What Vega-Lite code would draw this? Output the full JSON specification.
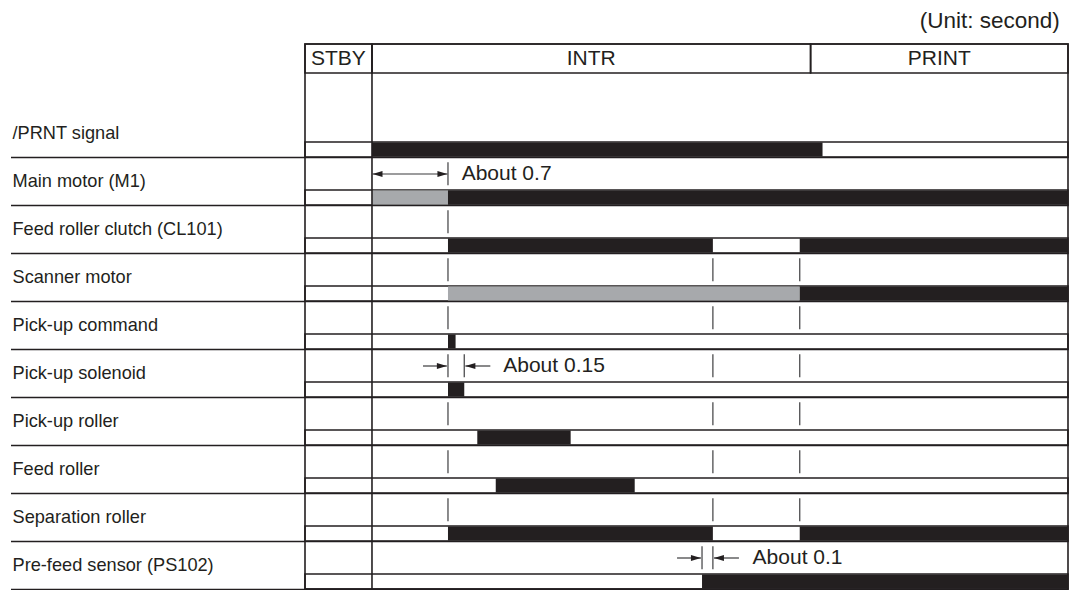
{
  "$schema": "https://vega.github.io/schema/vega-lite/v6.json",
  "width": 763,
  "height": 545,
  "autosize": {"type": "none"},
  "padding": {"left": 305, "top": 44, "right": 2, "bottom": 1},
  "background": "white",
  "config": {
    "view": {"stroke": "#231f20", "strokeWidth": 1.6},
    "font": "Liberation Sans"
  },
  "title": {
    "text": "(Unit: second)",
    "anchor": "end",
    "font": "Liberation Sans",
    "fontSize": 22.5,
    "fontWeight": "normal",
    "color": "#231f20",
    "offset": 11,
    "dx": -9
  },
  "datasets": {
    "signals": [
      {"signal": "/PRNT signal"},
      {"signal": "Main motor (M1)"},
      {"signal": "Feed roller clutch (CL101)"},
      {"signal": "Scanner motor"},
      {"signal": "Pick-up command"},
      {"signal": "Pick-up solenoid"},
      {"signal": "Pick-up roller"},
      {"signal": "Feed roller"},
      {"signal": "Separation roller"},
      {"signal": "Pre-feed sensor (PS102)"}
    ],
    "segments": [
      {"signal": "/PRNT signal", "start": 0, "end": 4.15, "state": "on"},
      {"signal": "Main motor (M1)", "start": 0, "end": 0.7, "state": "partial"},
      {"signal": "Main motor (M1)", "start": 0.7, "end": 6.411, "state": "on"},
      {"signal": "Feed roller clutch (CL101)", "start": 0.7, "end": 3.14, "state": "on"},
      {"signal": "Feed roller clutch (CL101)", "start": 3.94, "end": 6.411, "state": "on"},
      {"signal": "Scanner motor", "start": 0.7, "end": 3.94, "state": "partial"},
      {"signal": "Scanner motor", "start": 3.94, "end": 6.411, "state": "on"},
      {"signal": "Pick-up command", "start": 0.7, "end": 0.77, "state": "on"},
      {"signal": "Pick-up solenoid", "start": 0.7, "end": 0.85, "state": "on"},
      {"signal": "Pick-up roller", "start": 0.97, "end": 1.83, "state": "on"},
      {"signal": "Feed roller", "start": 1.14, "end": 2.42, "state": "on"},
      {"signal": "Separation roller", "start": 0.7, "end": 3.14, "state": "on"},
      {"signal": "Separation roller", "start": 3.94, "end": 6.411, "state": "on"},
      {"signal": "Pre-feed sensor (PS102)", "start": 3.04, "end": 6.411, "state": "on"}
    ],
    "markers": [
      {"signal": "Main motor (M1)", "t": 0.7},
      {"signal": "Feed roller clutch (CL101)", "t": 0.7},
      {"signal": "Scanner motor", "t": 0.7},
      {"signal": "Scanner motor", "t": 3.14},
      {"signal": "Scanner motor", "t": 3.94},
      {"signal": "Pick-up command", "t": 0.7},
      {"signal": "Pick-up command", "t": 3.14},
      {"signal": "Pick-up command", "t": 3.94},
      {"signal": "Pick-up solenoid", "t": 0.7},
      {"signal": "Pick-up solenoid", "t": 0.85},
      {"signal": "Pick-up solenoid", "t": 3.14},
      {"signal": "Pick-up solenoid", "t": 3.94},
      {"signal": "Pick-up roller", "t": 0.7},
      {"signal": "Pick-up roller", "t": 3.14},
      {"signal": "Pick-up roller", "t": 3.94},
      {"signal": "Feed roller", "t": 0.7},
      {"signal": "Feed roller", "t": 3.14},
      {"signal": "Feed roller", "t": 3.94},
      {"signal": "Separation roller", "t": 0.7},
      {"signal": "Separation roller", "t": 3.14},
      {"signal": "Separation roller", "t": 3.94},
      {"signal": "Pre-feed sensor (PS102)", "t": 3.04},
      {"signal": "Pre-feed sensor (PS102)", "t": 3.14}
    ],
    "shafts": [
      {"signal": "Main motor (M1)", "start": 0.005, "end": 0.695},
      {"signal": "Pick-up solenoid", "start": 0.47, "end": 0.69},
      {"signal": "Pick-up solenoid", "start": 0.86, "end": 1.09},
      {"signal": "Pre-feed sensor (PS102)", "start": 2.81, "end": 3.03},
      {"signal": "Pre-feed sensor (PS102)", "start": 3.15, "end": 3.38}
    ],
    "heads": [
      {"signal": "Main motor (M1)", "t": 0.005, "dir": "left"},
      {"signal": "Main motor (M1)", "t": 0.695, "dir": "right"},
      {"signal": "Pick-up solenoid", "t": 0.69, "dir": "right"},
      {"signal": "Pick-up solenoid", "t": 0.86, "dir": "left"},
      {"signal": "Pre-feed sensor (PS102)", "t": 3.03, "dir": "right"},
      {"signal": "Pre-feed sensor (PS102)", "t": 3.15, "dir": "left"}
    ],
    "notes": [
      {"signal": "Main motor (M1)", "t": 0.826, "note": "About 0.7"},
      {"signal": "Pick-up solenoid", "t": 1.209, "note": "About 0.15"},
      {"signal": "Pre-feed sensor (PS102)", "t": 3.506, "note": "About 0.1"}
    ],
    "phases": [
      {"phase": "STBY", "start": -0.617, "end": 0, "mid": -0.309},
      {"phase": "INTR", "start": 0, "end": 4.04, "mid": 2.02},
      {"phase": "PRINT", "start": 4.04, "end": 6.411, "mid": 5.225}
    ]
  },
  "resolve": {"scale": {"y": "independent"}},
  "layer": [
    {
      "layer": [
        {
          "data": {"name": "signals"},
          "mark": {"type": "bar", "height": 15, "yOffset": 16.5, "fill": "white", "fillOpacity": 0, "stroke": "#231f20", "strokeWidth": 1.6},
          "encoding": {
            "x": {"datum": -0.617, "type": "quantitative", "scale": {"domain": [-0.617, 6.411], "nice": false, "zero": false}, "axis": null},
            "x2": {"datum": 6.411},
            "y": {
              "field": "signal",
              "type": "nominal",
              "scale": {
                "domain": ["/PRNT signal", "Main motor (M1)", "Feed roller clutch (CL101)", "Scanner motor", "Pick-up command", "Pick-up solenoid", "Pick-up roller", "Feed roller", "Separation roller", "Pre-feed sensor (PS102)"],
                "range": [65, 545],
                "paddingInner": 0,
                "paddingOuter": 0
              },
              "axis": {
                "orient": "left",
                "title": null,
                "domain": false,
                "ticks": true,
                "tickSize": 294.5,
                "tickColor": "#231f20",
                "tickWidth": 1.6,
                "tickOffset": 24,
                "grid": true,
                "gridColor": "#231f20",
                "gridWidth": 1.6,
                "gridOpacity": 1,
                "labelAlign": "left",
                "labelBaseline": "middle",
                "labelPadding": -1.5,
                "labelOffset": -24,
                "labelFont": "Liberation Sans",
                "labelFontSize": 18.2,
                "labelColor": "#231f20",
                "labelLimit": 0
              }
            }
          }
        },
        {
          "data": {"name": "segments"},
          "mark": {"type": "bar", "height": 14, "yOffset": 16.5},
          "encoding": {
            "x": {"field": "start", "type": "quantitative", "scale": {"domain": [-0.617, 6.411], "nice": false, "zero": false}},
            "x2": {"field": "end"},
            "y": {"field": "signal", "type": "nominal"},
            "color": {"field": "state", "type": "nominal", "scale": {"domain": ["on", "partial"], "range": ["#231f20", "#a7a9ac"]}, "legend": null}
          }
        },
        {
          "data": {"name": "markers"},
          "mark": {"type": "tick", "size": 23, "thickness": 1.3, "color": "#4d4d4f", "opacity": 1, "yOffset": -7.2},
          "encoding": {
            "x": {"field": "t", "type": "quantitative", "scale": {"domain": [-0.617, 6.411], "nice": false, "zero": false}},
            "y": {"field": "signal", "type": "nominal"}
          }
        },
        {
          "data": {"name": "shafts"},
          "mark": {"type": "rule", "color": "#3a3a3c", "strokeWidth": 1.2, "yOffset": -7},
          "encoding": {
            "x": {"field": "start", "type": "quantitative", "scale": {"domain": [-0.617, 6.411], "nice": false, "zero": false}},
            "x2": {"field": "end"},
            "y": {"field": "signal", "type": "nominal"}
          }
        },
        {
          "data": {"name": "heads"},
          "mark": {"type": "point", "filled": true, "size": 400, "opacity": 1, "color": "#231f20", "yOffset": -7},
          "encoding": {
            "x": {"field": "t", "type": "quantitative", "scale": {"domain": [-0.617, 6.411], "nice": false, "zero": false}},
            "y": {"field": "signal", "type": "nominal"},
            "shape": {"field": "dir", "type": "nominal", "scale": {"domain": ["right", "left"], "range": ["M0,0L-1,-0.3L-1,0.3Z", "M0,0L1,-0.3L1,0.3Z"]}, "legend": null}
          }
        },
        {
          "data": {"name": "notes"},
          "mark": {"type": "text", "align": "left", "baseline": "middle", "font": "Liberation Sans", "fontSize": 21, "color": "#231f20", "yOffset": -7},
          "encoding": {
            "x": {"field": "t", "type": "quantitative", "scale": {"domain": [-0.617, 6.411], "nice": false, "zero": false}},
            "y": {"field": "signal", "type": "nominal"},
            "text": {"field": "note"}
          }
        },
        {
          "data": {"name": "phases"},
          "transform": [{"filter": "datum.phase === 'INTR'"}],
          "mark": {"type": "rule", "color": "#231f20", "strokeWidth": 1.6},
          "encoding": {
            "x": {"field": "start", "type": "quantitative", "scale": {"domain": [-0.617, 6.411], "nice": false, "zero": false}}
          }
        }
      ]
    },
    {
      "data": {"name": "phases"},
      "layer": [
        {
          "mark": {"type": "rect", "fill": "white", "fillOpacity": 0, "stroke": "#231f20", "strokeWidth": 1.6},
          "encoding": {
            "x": {"field": "start", "type": "quantitative", "scale": {"domain": [-0.617, 6.411], "nice": false, "zero": false}},
            "x2": {"field": "end"},
            "y": {"datum": "phase", "type": "nominal", "scale": {"range": [0, 29], "paddingInner": 0, "paddingOuter": 0}, "axis": null}
          }
        },
        {
          "mark": {"type": "text", "align": "center", "baseline": "middle", "font": "Liberation Sans", "fontSize": 21, "color": "#231f20"},
          "encoding": {
            "x": {"field": "mid", "type": "quantitative", "scale": {"domain": [-0.617, 6.411], "nice": false, "zero": false}},
            "y": {"datum": "phase", "type": "nominal"},
            "text": {"field": "phase"}
          }
        }
      ]
    }
  ]
}
